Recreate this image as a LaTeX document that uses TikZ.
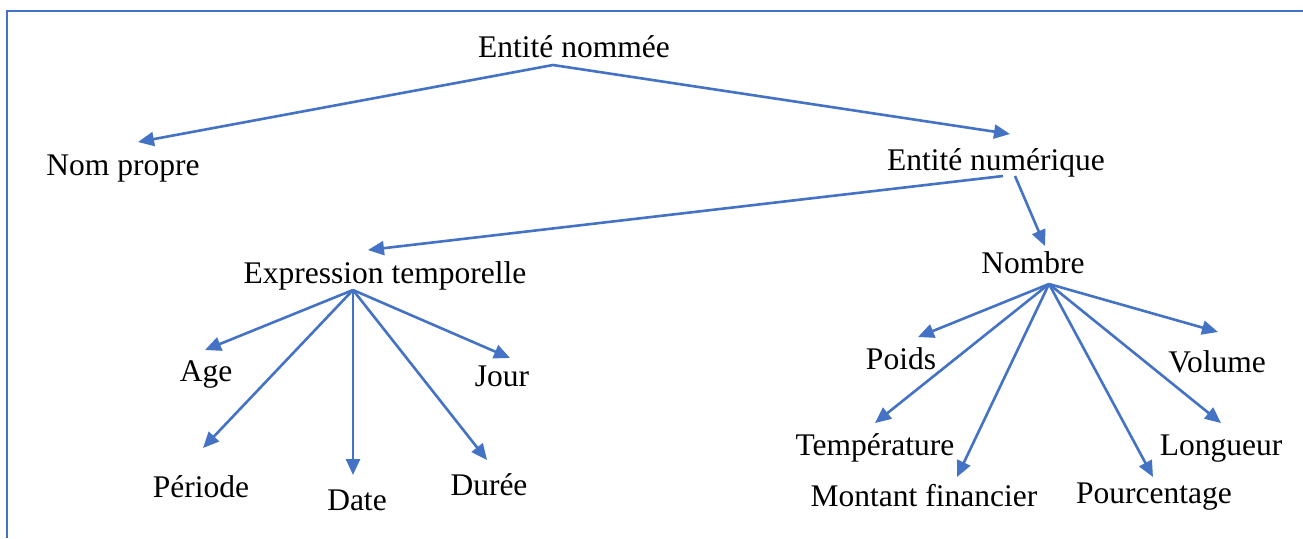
\documentclass[tikz,border=0pt]{standalone}
\usepackage{fontspec}
\setmainfont{Liberation Serif}
\usetikzlibrary{arrows.meta}
\definecolor{linkblue}{HTML}{4472C4}
\tikzset{
  lbl/.style={inner sep=0pt, anchor=base, font=\fontsize{15.75pt}{18pt}\selectfont},
  arr/.style={draw=linkblue, line width=1.3pt, -{Triangle[length=8pt,width=7pt]}},
  frame/.style={draw=linkblue, line width=1pt}
}
\begin{document}
\begin{tikzpicture}[x=0.5pt, y=-0.5pt]
\useasboundingbox (0,0) rectangle (1303,538);
\fill[white] (0,0) rectangle (1303,538);
% open frame: top and left edges only
\draw[frame] (7,538) -- (7,11) -- (1303,11);

% labels
\node[lbl] (root)  at (574,57)  {Entité nommée};
\node[lbl] (nom)   at (123,175) {Nom propre};
\node[lbl] (num)   at (996,170) {Entité numérique};
\node[lbl] (expr)  at (385,283) {Expression temporelle};
\node[lbl] (nb)    at (1033,273) {Nombre};
\node[lbl] (age)   at (206,381) {Age};
\node[lbl] (jour)  at (502,386) {Jour};
\node[lbl] (per)   at (201,497) {Période};
\node[lbl] (date)  at (357,510) {Date};
\node[lbl] (duree) at (489,495) {Durée};
\node[lbl] (poids) at (901,369) {Poids};
\node[lbl] (vol)   at (1217,372) {Volume};
\node[lbl] (temp)  at (875,455) {Température};
\node[lbl] (long)  at (1221,455) {Longueur};
\node[lbl] (mont)  at (924,506) {Montant financier};
\node[lbl] (pct)   at (1154,503) {Pourcentage};

% start points under the parents
\coordinate (rootS) at (553,65);
\coordinate (numSL) at (1003,176);
\coordinate (numSR) at (1015,176);
\coordinate (exprS) at (353,290);
\coordinate (nbS)   at (1049,284);

% arrow tips above the children
\coordinate (nomT)   at (138,142);
\coordinate (numT)   at (1010,134);
\coordinate (exprT)  at (368,250);
\coordinate (nbT)    at (1045,246);
\coordinate (ageT)   at (205,350);
\coordinate (jourT)  at (510,358);
\coordinate (perT)   at (203,448);
\coordinate (dateT)  at (353,475);
\coordinate (dureeT) at (487,460);
\coordinate (poidsT) at (918,337);
\coordinate (volT)   at (1218,332);
\coordinate (tempT)  at (875,423);
\coordinate (longT)  at (1221,423);
\coordinate (montT)  at (957,477);
\coordinate (pctT)   at (1153,477);

\draw[arr] (rootS) -- (nomT);
\draw[arr] (rootS) -- (numT);
\draw[arr] (numSL) -- (exprT);
\draw[arr] (numSR) -- (nbT);

\draw[arr] (exprS) -- (ageT);
\draw[arr] (exprS) -- (jourT);
\draw[arr] (exprS) -- (perT);
\draw[arr] (exprS) -- (dateT);
\draw[arr] (exprS) -- (dureeT);

\draw[arr] (nbS) -- (poidsT);
\draw[arr] (nbS) -- (volT);
\draw[arr] (nbS) -- (tempT);
\draw[arr] (nbS) -- (longT);
\draw[arr] (nbS) -- (montT);
\draw[arr] (nbS) -- (pctT);
\end{tikzpicture}
\end{document}
